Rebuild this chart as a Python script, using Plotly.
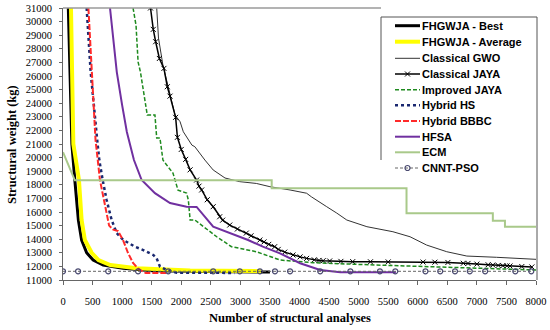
import plotly.graph_objects as go

# ---------------- data ----------------
best_x = [90, 150, 200, 260, 315, 400, 510, 680, 1015, 1520, 2500, 3500]
best_y = [31000, 21000, 18350, 15400, 13940, 13000, 12470, 12100, 11860, 11680, 11620, 11580]

avg_x = [135, 175, 270, 315, 370, 485, 600, 800, 1245, 2150, 3350]
avg_y = [31000, 21000, 18350, 15400, 13940, 13000, 12470, 12100, 11860, 11700, 11650]

gwo_x = [1585, 1615, 1690, 1795, 1895, 1980, 2035, 2180, 2230, 2400, 2540, 2740, 2990, 3270, 3500,
         3840, 4120, 4200, 4350, 4460, 4630, 4800, 5140, 5360, 5580, 5870, 6150, 6490, 6830, 7330, 8000]
gwo_y = [31000, 28790, 26800, 24820, 23130, 22640, 21900, 20920, 20800, 19820, 19090, 18500, 18230, 18100, 17860,
         17620, 17380, 17120, 16660, 16390, 15920, 15410, 14920, 14720, 14550, 14180, 13570, 13080, 12760, 12670, 12520]

jaya_x = [1480, 1527, 1567, 1630, 1707, 1764, 1810, 1905, 1935, 2000, 2075, 2150, 2260, 2300, 2345, 2440,
          2540, 2650, 2700, 2820, 2950, 3100, 3180, 3330, 3400, 3480, 3580, 3640, 3750, 3890, 4010, 4120,
          4250, 4330, 4400, 4510, 4700, 4900, 5200, 5500, 6090, 6290, 6510, 6770, 6850, 7000, 7190, 7270,
          7360, 7440, 7510, 7560, 7760, 7930]
jaya_y = [31000, 29430, 28520, 27290, 26560, 25210, 24520, 22960, 21490, 20600, 19870, 19100, 18350, 17900, 17620, 16900,
          16390, 15650, 15400, 15040, 14750, 14450, 14250, 13940, 13800, 13620, 13450, 13250, 13050, 12840, 12700, 12590,
          12480, 12440, 12420, 12400, 12370, 12350, 12340, 12330, 12320, 12310, 12290, 12230, 12220, 12170, 12120, 12100,
          12070, 12050, 12040, 12030, 11990, 11960]

ijaya_x = [1185, 1235, 1270, 1310, 1425, 1555, 1585, 1640, 1690, 1860, 1945, 2090, 2120, 2150, 2230, 2370,
           2600, 2850, 3270, 3670, 4230, 5300, 8000]
ijaya_y = [31000, 29740, 27030, 26290, 23130, 23130, 21440, 21440, 19820, 18860, 17610, 17390, 16880, 15410, 15410, 14920,
           14180, 13450, 13080, 12470, 12270, 12100, 11735]

hs_x = [400, 468, 585, 614, 671, 738, 823, 908, 1020, 1218, 1358, 1527, 1584, 1640, 1753, 1922, 2900]
hs_y = [31000, 26290, 21000, 19820, 18350, 16880, 15410, 14450, 13940, 13450, 13200, 12840, 12590, 11980, 11735, 11540, 11520]

bbbc_x = [430, 485, 550, 625, 710, 780, 850, 930, 1015, 1100, 1185, 1270, 1355, 1400, 1780]
bbbc_y = [31000, 26290, 21300, 18350, 16370, 15000, 14700, 14600, 13940, 12985, 12250, 11830, 11610, 11520, 11520]

hfsa_x = [795, 850, 910, 1000, 1080, 1200, 1330, 1555, 1810, 2090, 2260, 2540, 2820, 3130, 3380, 3670,
          4010, 4350, 4690, 5630]
hfsa_y = [31000, 28790, 26290, 23860, 21880, 19820, 18350, 17390, 16660, 16390, 16370, 14920, 14450, 13940, 13450, 12960,
          12230, 11740, 11570, 11570]

ecm_x = [0, 200, 3530, 3530, 5810, 5810, 7270, 7270, 7475, 7475, 8000]
ecm_y = [20400, 18330, 18330, 17740, 17740, 15900, 15900, 15360, 15360, 14920, 14920]

cnnt_x = [0, 255, 765, 1270, 1780, 2540, 2990, 3330, 3585, 3840, 4350, 4860, 5360, 5620, 6130, 6380,
          6630, 6880, 7140, 7650, 7920]
cnnt_y = [11640, 11640, 11640, 11640, 11640, 11640, 11640, 11640, 11640, 11640, 11640, 11640, 11640, 11640, 11640, 11640,
          11640, 11640, 11640, 11640, 11640]

series_names = ["FHGWJA - Best", "FHGWJA - Average", "Classical GWO", "Classical JAYA", "Improved JAYA",
                "Hybrid HS", "Hybrid BBBC", "HFSA", "ECM", "CNNT-PSO"]

y_ticks = [11000, 12000, 13000, 14000, 15000, 16000, 17000, 18000, 19000, 20000, 21000,
           22000, 23000, 24000, 25000, 26000, 27000, 28000, 29000, 30000, 31000]
x_ticks = [0, 500, 1000, 1500, 2000, 2500, 3000, 3500, 4000, 4500, 5000, 5500, 6000, 6500, 7000, 7500, 8000]

# ---------------- styles ----------------
styles = [
    dict(line=dict(color="#000000", width=3), mode="lines"),
    dict(line=dict(color="#ffff00", width=4), mode="lines"),
    dict(line=dict(color="#333333", width=1), mode="lines"),
    dict(line=dict(color="#000000", width=1.5), mode="lines+markers",
         marker=dict(symbol="x-thin-open", size=5, color="#000000", line=dict(color="#000000", width=1))),
    dict(line=dict(color="#1e8a1e", width=1.5, dash="4px,2px"), mode="lines"),
    dict(line=dict(color="#1a2870", width=2.5, dash="dot"), mode="lines"),
    dict(line=dict(color="#ff2a2a", width=2, dash="6px,2px"), mode="lines"),
    dict(line=dict(color="#7030a0", width=2), mode="lines"),
    dict(line=dict(color="#a9c98a", width=2), mode="lines"),
    dict(line=dict(color="#666666", width=1, dash="3px,2px"), mode="lines+markers",
         marker=dict(symbol="circle-open", size=5, color="#4a4a70", line=dict(color="#4a4a70", width=1.2))),
]
xs = [best_x, avg_x, gwo_x, jaya_x, ijaya_x, hs_x, bbbc_x, hfsa_x, ecm_x, cnnt_x]
ys = [best_y, avg_y, gwo_y, jaya_y, ijaya_y, hs_y, bbbc_y, hfsa_y, ecm_y, cnnt_y]

W, H = 550, 330
L, R, T, B = 63, 14, 8, 50
PW, PH = W - L - R, H - T - B


def px_x(p):
    return (p - L) / PW


def px_y(p):
    return (H - B - p) / PH


fig = go.Figure()
for name, x, y, st in zip(series_names, xs, ys, styles):
    fig.add_trace(go.Scatter(x=x, y=y, name=name, showlegend=False, hoverinfo="skip", **st))

# ---------------- custom legend ----------------
leg_rows = [25.7, 41.7, 58.3, 74, 89.7, 105.3, 121, 136.7, 152.3, 168]
sx0, sx1 = px_x(395), px_x(420)
annotations = []
for name, st, ry in zip(series_names, styles, leg_rows):
    yy = px_y(ry)
    fig.add_trace(go.Scatter(x=[sx0, sx1], y=[yy, yy], mode="lines", line=st["line"],
                             xaxis="x2", yaxis="y2", showlegend=False, hoverinfo="skip"))
    if "marker" in st:
        fig.add_trace(go.Scatter(x=[(sx0 + sx1) / 2], y=[yy], mode="markers", marker=st["marker"],
                                 xaxis="x2", yaxis="y2", showlegend=False, hoverinfo="skip"))
    annotations.append(dict(text="<b>" + name + "</b>", x=px_x(420), y=yy, xref="paper", yref="paper",
                            xanchor="left", yanchor="middle", showarrow=False,
                            font=dict(family="Liberation Sans", size=11, color="#000000")))

annotations.append(dict(text="<b>Structural weight (kg)</b>", x=px_x(12), y=px_y(145),
                        xref="paper", yref="paper", textangle=-90, showarrow=False,
                        xanchor="center", yanchor="middle",
                        font=dict(family="Liberation Serif", size=12.5, color="#000000")))
annotations.append(dict(text="<b>Number of structural analyses</b>", x=px_x(290), y=px_y(318),
                        xref="paper", yref="paper", showarrow=False,
                        xanchor="center", yanchor="middle",
                        font=dict(family="Liberation Serif", size=12.5, color="#000000")))

shapes = [
    dict(type="line", xref="paper", yref="paper", x0=0, x1=px_x(381), y0=1, y1=1,
         line=dict(color="#9a9a9a", width=1.5)),
    dict(type="line", xref="paper", yref="paper", x0=px_x(381), x1=px_x(537), y0=px_y(17), y1=px_y(17),
         line=dict(color="#555555", width=1)),
    dict(type="line", xref="paper", yref="paper", x0=px_x(381), x1=px_x(381), y0=px_y(17), y1=px_y(160),
         line=dict(color="#555555", width=1)),
    dict(type="line", xref="paper", yref="paper", x0=px_x(537), x1=px_x(537), y0=px_y(17), y1=0,
         line=dict(color="#555555", width=1)),
]

fig.update_layout(
    width=W, height=H,
    margin=dict(l=L, r=R, t=T, b=B, autoexpand=False),
    paper_bgcolor="white", plot_bgcolor="white",
    showlegend=False,
    font=dict(family="Liberation Serif", size=10, color="#000000"),
    xaxis=dict(range=[0, 8000], tickvals=x_ticks, ticktext=[str(v) for v in x_ticks],
               showgrid=False, zeroline=False, showline=True, linecolor="#666666", linewidth=1,
               ticks="outside", ticklen=4, tickcolor="#666666", ticklabelstandoff=7,
               automargin=False, tickfont=dict(family="Liberation Serif", size=10.5)),
    yaxis=dict(range=[11000, 31000], tickvals=y_ticks, ticktext=[str(v) for v in y_ticks],
               showgrid=False, zeroline=False, showline=True, linecolor="#666666", linewidth=1,
               ticks="outside", ticklen=3, tickcolor="#666666", ticklabelstandoff=5,
               automargin=False, tickfont=dict(family="Liberation Serif", size=10.5)),
    xaxis2=dict(range=[0, 1], overlaying="x", visible=False, fixedrange=True),
    yaxis2=dict(range=[0, 1], overlaying="y", visible=False, fixedrange=True),
    annotations=annotations,
    shapes=shapes,
)

fig.write_html("out.html", config={"displayModeBar": False, "staticPlot": True})

# remove the browser's default page margin so the figure sits at the window origin
with open("out.html", "r", encoding="utf-8") as f:
    html = f.read()
html = html.replace("<head>", "<head><style>html,body{margin:0;padding:0;overflow:hidden;}</style>", 1)
with open("out.html", "w", encoding="utf-8") as f:
    f.write(html)
